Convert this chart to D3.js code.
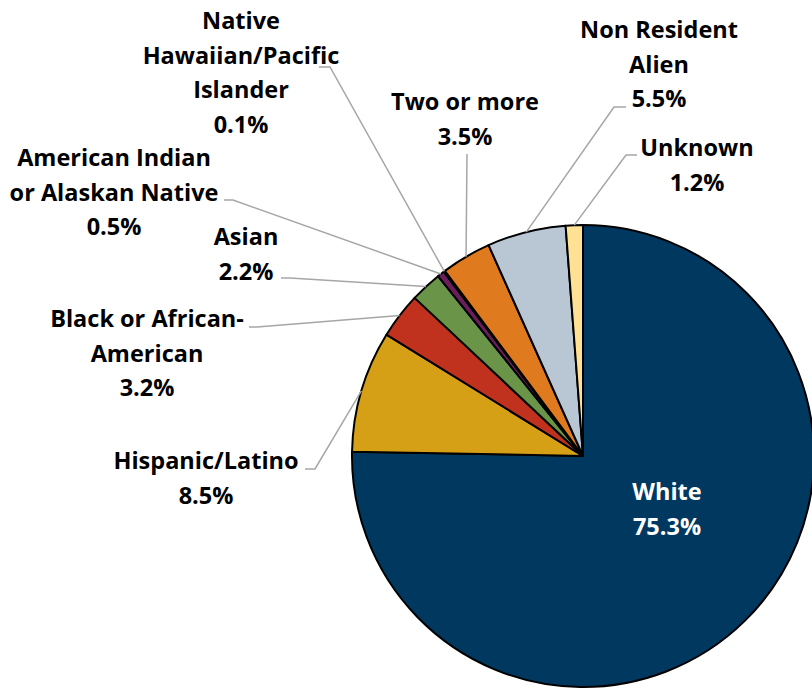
<!DOCTYPE html>
<html>
<head>
<meta charset="utf-8">
<style>
  body { margin: 0; background: #fff; }
  svg { display: block; }
  .lbl { font-family: "Open Sans", Lato, sans-serif; font-weight: bold; font-size: 23.5px; }
</style>
</head>
<body>
<script src="https://cdn.jsdelivr.net/npm/d3@7/dist/d3.min.js"></script>
<script>
// chart data
const categories = ["White", "Hispanic/Latino", "Black or African-American", "Asian",
  "American Indian or Alaskan Native", "Native Hawaiian/Pacific Islander",
  "Two or more", "Non Resident Alien", "Unknown"];
const values = [75.3, 8.5, 3.2, 2.2, 0.5, 0.1, 3.5, 5.5, 1.2];
const labelLines = [["White"], ["Hispanic/Latino"], ["Black or African-", "American"], ["Asian"],
  ["American Indian", "or Alaskan Native"], ["Native", "Hawaiian/Pacific", "Islander"],
  ["Two or more"], ["Non Resident", "Alien"], ["Unknown"]];
const colors = ["#003860", "#D6A016", "#C0321E", "#6A9447", "#6A1F5A", "#2A2A2A",
  "#E07A1E", "#B9C7D5", "#FFE193"];

// label placement: text centre x, first baseline y, leader start + elbow
const labelPos = [
  { x: 667, y: 500 },
  { x: 206, y: 469, lead: [[305, 469], [315, 469]] },
  { x: 147, y: 327, lead: [[249, 327], [257, 327]] },
  { x: 246, y: 245, lead: [[281, 278], [290, 278]] },
  { x: 114, y: 166, lead: [[224, 200], [233, 200]] },
  { x: 241, y: 29,  lead: [[319, 67], [330, 67]] },
  { x: 465, y: 110, lead: [[467, 154], [467, 154]] },
  { x: 659, y: 38,  lead: [[626, 107], [614, 107]] },
  { x: 697, y: 156, lead: [[637, 155], [626, 155]] }
];

const w = 812, h = 690;
const cx = 583, cy = 456, r = 231;
const lineH = 34.7;

const svg = d3.select("body").append("svg").attr("width", w).attr("height", h);
const g = svg.append("g").attr("transform", `translate(${cx},${cy})`);

const data = categories.map((c, i) => ({ name: c, value: values[i], i: i }));
const pie = d3.pie().sort(null).value(d => d.value);
const arcs = pie(data);

const arc = d3.arc().innerRadius(0).outerRadius(r);
const edge = d3.arc().innerRadius(r).outerRadius(r);

g.selectAll("path.slice").data(arcs).enter().append("path")
  .attr("class", "slice")
  .attr("d", arc)
  .attr("fill", d => colors[d.data.i])
  .attr("stroke", "#000")
  .attr("stroke-width", 2)
  .attr("stroke-linejoin", "round");

// leader lines
const line = d3.line();
svg.selectAll("path.leader").data(arcs.filter(d => labelPos[d.data.i].lead)).enter()
  .append("path")
  .attr("class", "leader")
  .attr("fill", "none")
  .attr("stroke", "#A6A6A6")
  .attr("stroke-width", 1.5)
  .attr("d", d => {
    const p = labelPos[d.data.i];
    const e = edge.centroid(d);
    return line([p.lead[0], p.lead[1], [cx + e[0], cy + e[1]]]);
  });

// labels
const lbl = svg.selectAll("text.lbl").data(arcs).enter().append("text")
  .attr("class", "lbl")
  .attr("text-anchor", "middle")
  .attr("fill", d => d.data.i === 0 ? "#fff" : "#000");

lbl.each(function(d) {
  const p = labelPos[d.data.i];
  const lines = labelLines[d.data.i].concat([d3.format(".1f")(d.data.value) + "%"]);
  d3.select(this).selectAll("tspan").data(lines).enter().append("tspan")
    .attr("x", p.x)
    .attr("y", (t, k) => p.y + k * lineH)
    .text(t => t);
});
</script>
</body>
</html>
